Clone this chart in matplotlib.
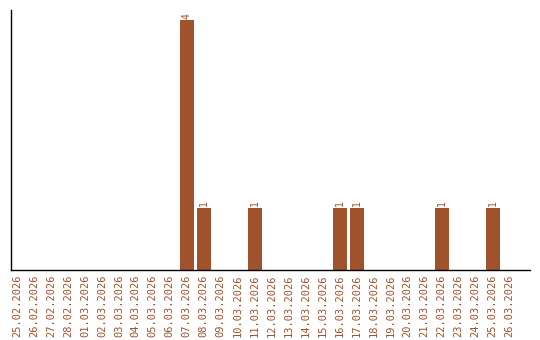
import matplotlib
matplotlib.use('Agg')
import matplotlib.pyplot as plt
import pandas as pd

# daily counts
dates = pd.date_range('2026-02-25', '2026-03-26', freq='D')
labels = [d.strftime('%d.%m.%Y') for d in dates]
counts = {'07.03.2026': 4, '08.03.2026': 1, '11.03.2026': 1, '16.03.2026': 1,
          '17.03.2026': 1, '22.03.2026': 1, '25.03.2026': 1}
values = [counts.get(l, 0) for l in labels]

color = '#A0522D'

fig = plt.figure(figsize=(5.4, 3.4), dpi=100)
ax = fig.add_axes([11 / 540, 70 / 340, 519 / 540, 260 / 340])
x = list(range(len(labels)))
ax.bar(x, values, width=0.82, color=color)

for xi, v in zip(x, values):
    if v > 0:
        ax.text(xi, v + 0.02, str(v), rotation=90, ha='center', va='bottom',
                fontsize=7, color=color, family='DejaVu Sans Mono')

ax.set_xlim(-0.35, 30.2)
ax.set_ylim(0, 4.16)
ax.set_xticks(x)
ax.set_xticklabels(labels, rotation=90, fontsize=7.5, color=color, family='DejaVu Sans Mono')
ax.tick_params(axis='x', length=0, pad=3)
ax.set_yticks([])
ax.spines['top'].set_visible(False)
ax.spines['right'].set_visible(False)
ax.spines['left'].set_linewidth(1)
ax.spines['bottom'].set_linewidth(1)

fig.savefig('out.png', dpi=100)
